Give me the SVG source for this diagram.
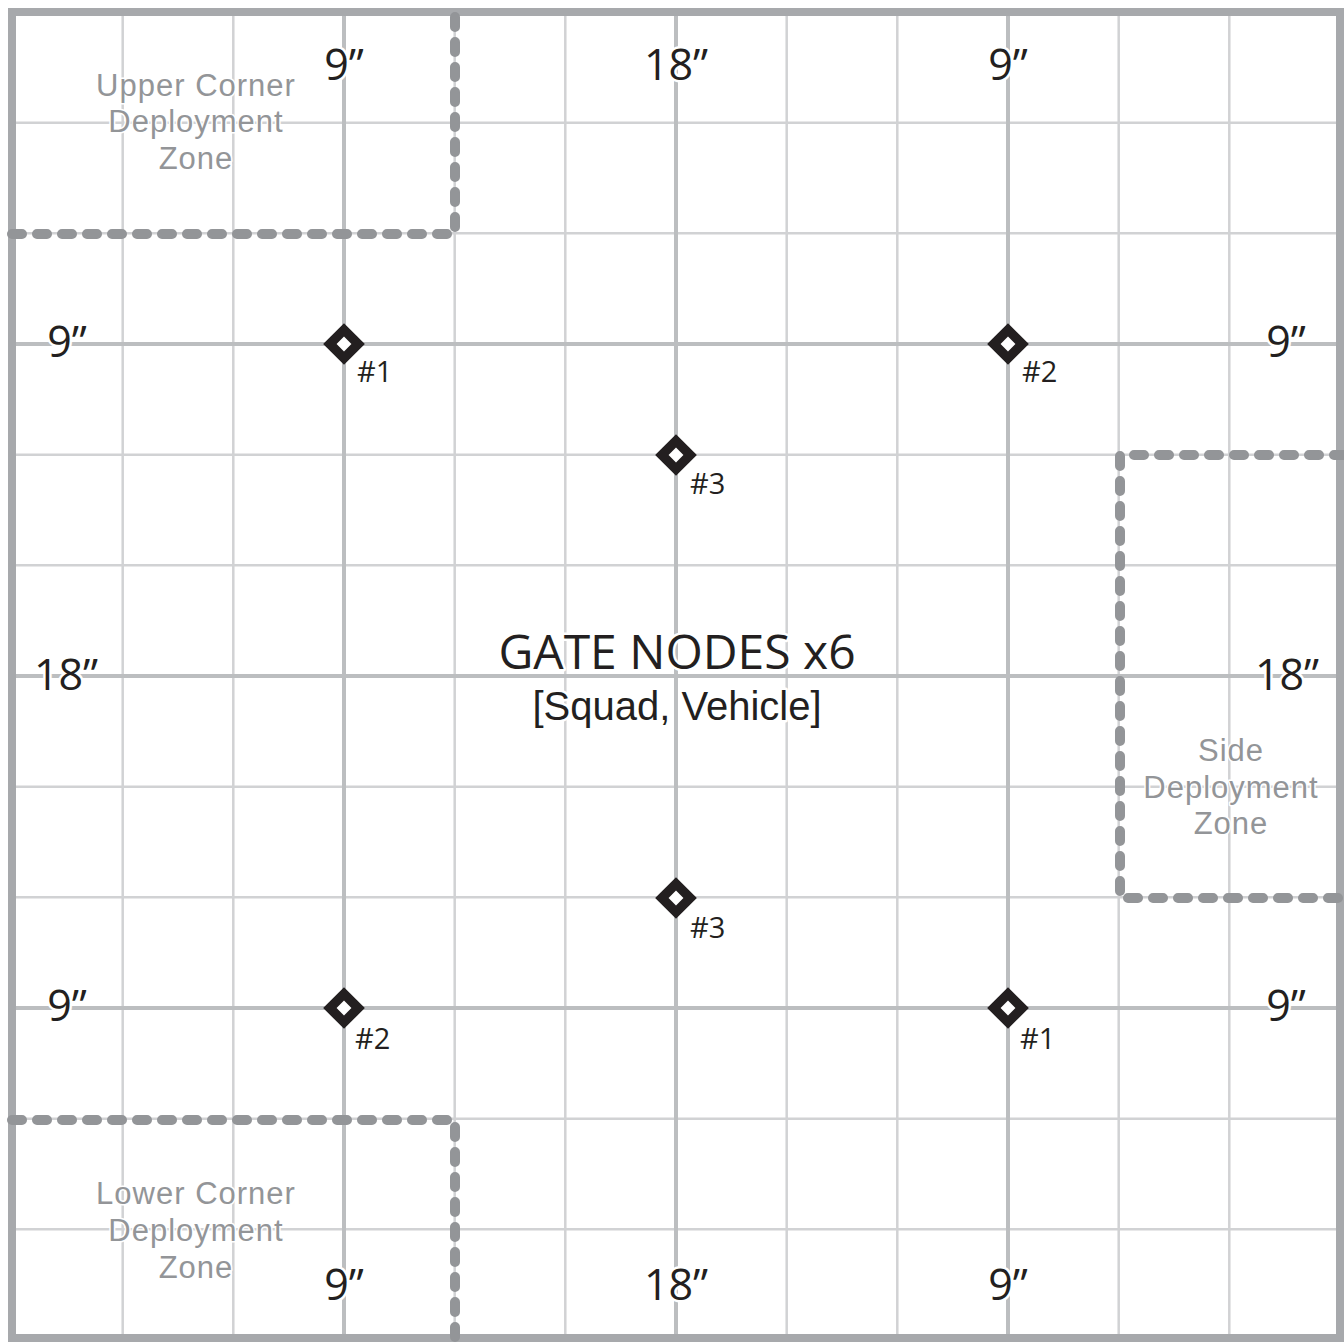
<svg xmlns="http://www.w3.org/2000/svg" width="1344" height="1342" viewBox="0 0 1344 1342">
<style>
.thin{stroke:#d1d2d4;stroke-width:2.5;fill:none}
.thick{stroke:#bcbec0;stroke-width:4;fill:none}
.border{stroke:#a7a9ac;stroke-width:8;fill:none}
.dash{stroke:#939598;stroke-width:10;fill:none;stroke-linecap:round;stroke-dasharray:10 15}
.dim{font-family:"Open Sans","Liberation Sans",sans-serif;font-size:43px;fill:#231f20;text-anchor:middle;stroke:#fff;stroke-width:5;paint-order:stroke;stroke-linejoin:round}
.zone{font-family:"Liberation Sans",Arial,sans-serif;font-size:31px;letter-spacing:1px;fill:#939598;text-anchor:middle;stroke:#fff;stroke-width:3;paint-order:stroke;stroke-linejoin:round}
.nl{font-family:"Open Sans","Liberation Sans",sans-serif;font-size:29px;fill:#231f20;stroke:#fff;stroke-width:4;paint-order:stroke}
.title{font-family:"Open Sans","Liberation Sans",sans-serif;fill:#231f20;text-anchor:middle;stroke:#fff;stroke-width:5;paint-order:stroke;stroke-linejoin:round}
.sub{font-family:"Liberation Sans",Arial,sans-serif;fill:#231f20;text-anchor:middle;stroke:#fff;stroke-width:5;paint-order:stroke;stroke-linejoin:round}
.gate{fill:#fff;stroke:#231f20;stroke-width:9.5}
</style>
<rect width="1344" height="1342" fill="#fff"/>
<g id="grid">
<path class="thin" d="M122.7 12V1340M233.3 12V1340M454.7 12V1340M565.3 12V1340M786.7 12V1340M897.3 12V1340M1118.7 12V1340M1229.3 12V1340M12 122.7H1340M12 233.3H1340M12 454.7H1340M12 565.3H1340M12 786.7H1340M12 897.3H1340M12 1118.7H1340M12 1229.3H1340"/>
<path class="thick" d="M344 12V1340M676 12V1340M1008 12V1340M12 344H1340M12 676H1340M12 1008H1340"/>
<rect class="border" x="12" y="12" width="1328" height="1326"/>
</g>
<g id="zones">
<path class="dash" d="M12 234H455V12"/>
<path class="dash" d="M12 1120H455V1340"/>
<path class="dash" d="M1344 455H1120V898H1344"/>
</g>
<g id="zone-labels">
<text class="zone" x="196" y="96">Upper Corner</text>
<text class="zone" x="196" y="132">Deployment</text>
<text class="zone" x="196" y="169">Zone</text>
<text class="zone" x="1231" y="761">Side</text>
<text class="zone" x="1231" y="798">Deployment</text>
<text class="zone" x="1231" y="834">Zone</text>
<text class="zone" x="196" y="1204">Lower Corner</text>
<text class="zone" x="196" y="1241">Deployment</text>
<text class="zone" x="196" y="1278">Zone</text>
</g>
<g id="dimensions">
<text class="dim" x="344" y="80">9”</text>
<text class="dim" x="676" y="80">18”</text>
<text class="dim" x="1008" y="80">9”</text>
<text class="dim" x="344" y="1300">9”</text>
<text class="dim" x="676" y="1300">18”</text>
<text class="dim" x="1008" y="1300">9”</text>
<text class="dim" x="67" y="357">9”</text>
<text class="dim" x="66" y="690">18”</text>
<text class="dim" x="67" y="1021">9”</text>
<text class="dim" x="1286" y="357">9”</text>
<text class="dim" x="1287" y="690">18”</text>
<text class="dim" x="1286" y="1021">9”</text>
</g>
<g id="title">
<text class="title" x="677" y="669" font-size="48">GATE NODES x6</text>
<text class="sub" x="677" y="720" font-size="40">[Squad, Vehicle]</text>
</g>
<g id="gate-1a"><rect class="gate" x="-10" y="-10" width="20" height="20" transform="translate(344 344) rotate(45)"/><text class="nl" x="357" y="382">#1</text></g>
<g id="gate-2a"><rect class="gate" x="-10" y="-10" width="20" height="20" transform="translate(1008 344) rotate(45)"/><text class="nl" x="1022" y="382">#2</text></g>
<g id="gate-3a"><rect class="gate" x="-10" y="-10" width="20" height="20" transform="translate(676 455) rotate(45)"/><text class="nl" x="690" y="494">#3</text></g>
<g id="gate-3b"><rect class="gate" x="-10" y="-10" width="20" height="20" transform="translate(676 898) rotate(45)"/><text class="nl" x="690" y="938">#3</text></g>
<g id="gate-2b"><rect class="gate" x="-10" y="-10" width="20" height="20" transform="translate(344 1008) rotate(45)"/><text class="nl" x="355" y="1049">#2</text></g>
<g id="gate-1b"><rect class="gate" x="-10" y="-10" width="20" height="20" transform="translate(1008 1008) rotate(45)"/><text class="nl" x="1020" y="1049">#1</text></g>
</svg>
